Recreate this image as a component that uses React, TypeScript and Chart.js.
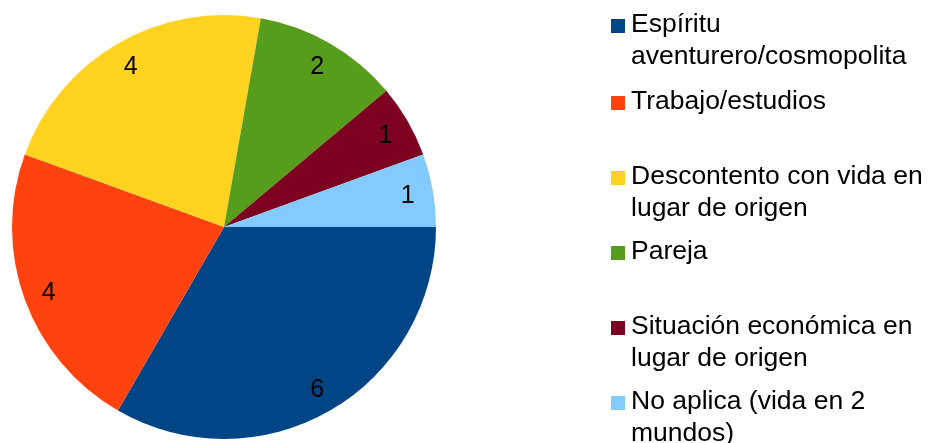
import React, { useEffect, useRef } from "react";
import { Chart, registerables } from "chart.js";

Chart.register(...registerables);

const categories: string[][] = [
  ["Espíritu", "aventurero/cosmopolita"],
  ["Trabajo/estudios"],
  ["Descontento con vida en", "lugar de origen"],
  ["Pareja"],
  ["Situación económica en", "lugar de origen"],
  ["No aplica (vida en 2", "mundos)"],
];
const values: number[] = [6, 4, 4, 2, 1, 1];
const colors: string[] = ["#004586", "#ff420e", "#ffd320", "#579d1c", "#7e0021", "#83caff"];

const FONT = '"Liberation Sans", Arial, sans-serif';

const valueLabels = {
  id: "valueLabels",
  afterDatasetsDraw(chart: any) {
    const ctx = chart.ctx;
    const meta = chart.getDatasetMeta(0);
    ctx.save();
    ctx.font = `25px ${FONT}`;
    ctx.fillStyle = "#000";
    ctx.textAlign = "center";
    ctx.textBaseline = "middle";
    meta.data.forEach((arc: any, i: number) => {
      const p = arc.getProps(["x", "y", "startAngle", "endAngle", "outerRadius"], true);
      const mid = (p.startAngle + p.endAngle) / 2;
      const r = p.outerRadius * 0.88;
      ctx.fillText(String(values[i]), p.x + Math.cos(mid) * r, p.y + Math.sin(mid) * r + 2);
    });
    ctx.restore();
  },
};

const legendBaselines = [32, 109, 184, 259, 334, 409];

const sideLegend = {
  id: "sideLegend",
  afterDraw(chart: any) {
    const ctx = chart.ctx;
    ctx.save();
    ctx.font = `26.5px ${FONT}`;
    ctx.textAlign = "left";
    ctx.textBaseline = "alphabetic";
    const x0 = 611;
    const lineH = 32;
    categories.forEach((lines, i) => {
      const b = legendBaselines[i];
      ctx.fillStyle = colors[i];
      ctx.fillRect(x0, b - 13, 14, 14);
      ctx.fillStyle = "#000";
      lines.forEach((t, j) => ctx.fillText(t, x0 + 20, b + j * lineH));
    });
    ctx.restore();
  },
};

export default function App() {
  const ref = useRef<HTMLCanvasElement | null>(null);
  useEffect(() => {
    document.body.style.margin = "0";
    const chart = new Chart(ref.current as HTMLCanvasElement, {
      type: "pie",
      data: {
        labels: categories.map((l) => l.join(" ")),
        datasets: [
          {
            data: values,
            backgroundColor: colors,
            borderWidth: 0,
          },
        ],
      },
      options: {
        responsive: false,
        animation: false,
        rotation: 90,
        layout: { padding: { left: 12, top: 15, right: 493, bottom: 4 } },
        plugins: {
          legend: { display: false },
          tooltip: { enabled: false },
        },
      },
      plugins: [valueLabels, sideLegend],
    });
    return () => chart.destroy();
  }, []);
  return (
    <div style={{ width: 929, height: 443, background: "#fff" }}>
      <canvas ref={ref} width={929} height={443} />
    </div>
  );
}
